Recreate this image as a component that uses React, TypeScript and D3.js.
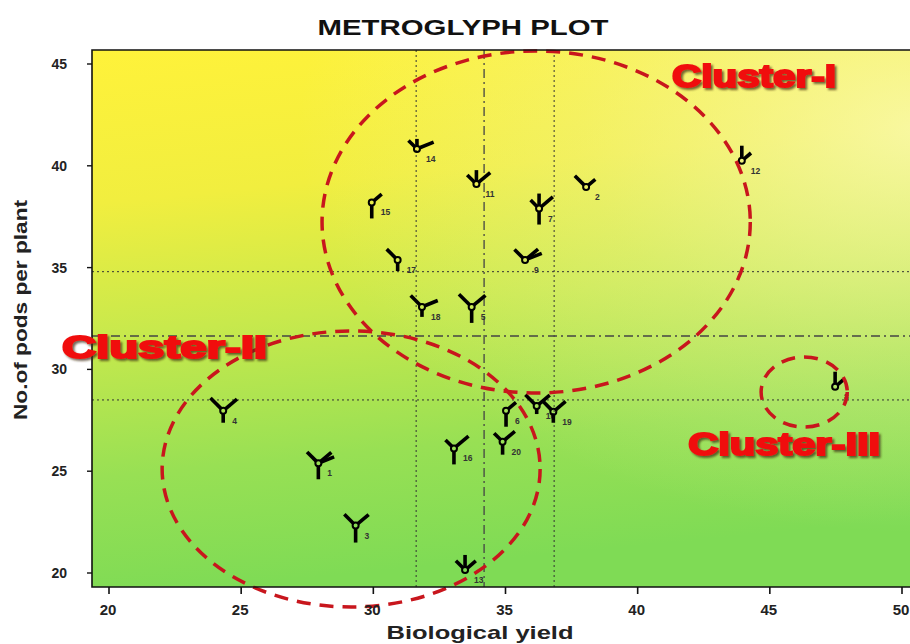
import React from "react";
import * as d3 from "d3";

// ---------- data ----------
const xTicks = [20, 25, 30, 35, 40, 45, 50];
const yTicks = [20, 25, 30, 35, 40, 45];

const ids = [1, 2, 3, 4, 5, 6, 7, 8, 9, 10, 11, 12, 13, 14, 15, 16, 17, 18, 19, 20];
const bioYield = [27.92, 38.05, 29.33, 24.32, 33.72, 35.02, 36.27, 47.47, 35.74, 36.18, 33.9, 43.94, 33.47, 31.65, 29.94, 33.05, 30.92, 31.84, 36.81, 34.89];
const podsPerPlant = [25.39, 38.96, 22.33, 27.97, 33.07, 27.97, 37.9, 29.15, 35.37, 28.2, 39.1, 40.25, 20.15, 40.83, 38.2, 26.12, 35.37, 33.07, 27.92, 26.45];

// glyph ray directions (degrees) and ray lengths per genotype
const rayAngles = [270, 135, 90, 40, 22];
const rayLengths = [
  [13, 13, 0, 14, 14],
  [0, 13, 0, 9, 0],
  [14, 13, 0, 14, 0],
  [9, 15, 0, 15, 0],
  [13, 15, 0, 15, 0],
  [13, 0, 0, 10, 0],
  [13, 9, 12, 15, 0],
  [0, 0, 12, 9, 0],
  [0, 12, 0, 14, 15],
  [5, 13, 0, 14, 0],
  [0, 10, 11, 15, 0],
  [0, 0, 12, 9, 0],
  [0, 10, 12, 11, 0],
  [0, 9, 7, 0, 15],
  [13, 0, 0, 10, 0],
  [13, 9, 0, 16, 0],
  [8, 12.5, 0, 0, 0],
  [7, 13, 0, 0, 14],
  [8, 11, 0, 13, 0],
  [10, 9, 0, 13, 0],
];

// reference lines
const vDotted = [31.62, 36.84];
const vDashDot = [34.19];
const hDotted = [34.8, 28.5];
const hDashDot = [31.64];

// clusters (center x, center y, radius x, radius y in data units)
const clusterNames = ["Cluster-I", "Cluster-II", "Cluster-III"];
const clusterCx = [36.16, 29.16, 46.3];
const clusterCy = [37.24, 25.11, 28.89];
const clusterRx = [8.1, 7.15, 1.63];
const clusterRy = [8.4, 6.78, 1.72];
const clusterLabelX = [41.3, 18.22, 41.91];
const clusterLabelY = [43.87, 30.56, 25.8];

export default function App() {
  const W = 910, H = 644;
  const x = d3.scaleLinear().domain([20, 50]).range([109, 902]);
  const y = d3.scaleLinear().domain([20, 45]).range([573, 64]);
  const left = 92, top = 50, right = 919, bottom = 587;
  const font = "'Liberation Sans', Arial, sans-serif";
  const labelWidths = [164, 205, 192];

  return (
    <div style={{ position: "absolute", left: 0, top: 0 }}>
      <svg width={W} height={H} viewBox={`0 0 ${W} ${H}`} style={{ display: "block", background: "#fff" }}>
        <defs>
          <linearGradient id="bg" x1="0" y1="0" x2="0.15" y2="1">
            <stop offset="0" stopColor="#fff23a" />
            <stop offset="0.28" stopColor="#f1ee3f" />
            <stop offset="0.52" stopColor="#c8e94c" />
            <stop offset="0.78" stopColor="#98e054" />
            <stop offset="1" stopColor="#7fdb55" />
          </linearGradient>
          <radialGradient id="sheen" cx="1" cy="0.15" r="0.75" gradientUnits="objectBoundingBox">
            <stop offset="0" stopColor="#fbfbc0" stopOpacity="0.75" />
            <stop offset="0.55" stopColor="#f4f6b0" stopOpacity="0.3" />
            <stop offset="1" stopColor="#f4f6b0" stopOpacity="0" />
          </radialGradient>
          <filter id="shadow" x="-10%" y="-30%" width="130%" height="170%">
            <feDropShadow dx="2" dy="2" stdDeviation="1.2" floodColor="#3a2a10" floodOpacity="0.7" />
          </filter>
          <clipPath id="plotclip">
            <rect x={left} y={top} width={right - left} height={bottom - top} />
          </clipPath>
        </defs>

        {/* title */}
        <text x={463} y={35} textAnchor="middle" fontFamily={font} fontWeight="bold" fontSize={22} textLength={291} lengthAdjust="spacingAndGlyphs" fill="#111">
          METROGLYPH PLOT
        </text>

        {/* background */}
        <rect x={left} y={top} width={right - left} height={bottom - top} fill="url(#bg)" />
        <rect x={left} y={top} width={right - left} height={bottom - top} fill="url(#sheen)" />

        <g clipPath="url(#plotclip)">
          {vDotted.map((v, i) => (
            <line key={"vd" + i} x1={x(v)} x2={x(v)} y1={top} y2={bottom} stroke="#333" strokeWidth={1} strokeDasharray="2,3" />
          ))}
          {hDotted.map((v, i) => (
            <line key={"hd" + i} x1={left} x2={right} y1={y(v)} y2={y(v)} stroke="#333" strokeWidth={1} strokeDasharray="2,3" />
          ))}
          {vDashDot.map((v, i) => (
            <line key={"vdd" + i} x1={x(v)} x2={x(v)} y1={top} y2={bottom} stroke="#444" strokeWidth={1.3} strokeDasharray="9,4,2,4" />
          ))}
          {hDashDot.map((v, i) => (
            <line key={"hdd" + i} x1={left} x2={right} y1={y(v)} y2={y(v)} stroke="#444" strokeWidth={1.3} strokeDasharray="9,4,2,4" />
          ))}

          {/* glyphs */}
          {ids.map((id, i) => {
            const cx = x(bioYield[i]);
            const cy = y(podsPerPlant[i]);
            const r = 3;
            return (
              <g key={"g" + id}>
                {rayAngles.map((a, j) => {
                  const len = rayLengths[i][j];
                  if (!len) return null;
                  const rad = (a * Math.PI) / 180;
                  return (
                    <line
                      key={j}
                      x1={cx + Math.cos(rad) * r}
                      y1={cy - Math.sin(rad) * r}
                      x2={cx + Math.cos(rad) * (r + len)}
                      y2={cy - Math.sin(rad) * (r + len)}
                      stroke="#000"
                      strokeWidth={3.6}
                    />
                  );
                })}
                <circle cx={cx} cy={cy} r={r} fill="none" stroke="#000" strokeWidth={2} />
                <text x={cx + 9} y={cy + 13} fontFamily={font} fontWeight="bold" fontSize={8.5} fill="#333">
                  {id}
                </text>
              </g>
            );
          })}
        </g>

        {/* cluster ellipses (may extend outside the plot) */}
        {clusterNames.map((n, i) => (
          <ellipse
            key={"e" + i}
            cx={x(clusterCx[i])}
            cy={y(clusterCy[i])}
            rx={x(clusterCx[i] + clusterRx[i]) - x(clusterCx[i])}
            ry={y(clusterCy[i] - clusterRy[i]) - y(clusterCy[i])}
            fill="none"
            stroke="#c8161d"
            strokeWidth={3.5}
            strokeDasharray="14,9"
          />
        ))}

        {/* frame */}
        <path d={`M${right},${top}H${left}V${bottom}H${right}`} fill="none" stroke="#111" strokeWidth={1.6} />

        {/* y axis ticks */}
        {yTicks.map((t) => (
          <g key={"yt" + t}>
            <line x1={87} x2={left} y1={y(t)} y2={y(t)} stroke="#111" strokeWidth={1.4} />
            <text x={67} y={y(t) + 5} textAnchor="end" fontFamily={font} fontWeight="bold" fontSize={14} fill="#222">
              {t}
            </text>
          </g>
        ))}
        {/* x axis ticks */}
        {xTicks.map((t) => (
          <g key={"xt" + t}>
            <line x1={x(t)} x2={x(t)} y1={bottom} y2={bottom + 7} stroke="#111" strokeWidth={1.6} />
            <text x={x(t) - 1} y={615} textAnchor="middle" fontFamily={font} fontWeight="bold" fontSize={15} fill="#222">
              {t}
            </text>
          </g>
        ))}

        {/* axis titles */}
        <text x={480} y={639} textAnchor="middle" fontFamily={font} fontWeight="bold" fontSize={19} textLength={187} lengthAdjust="spacingAndGlyphs" fill="#222">
          Biological yield
        </text>
        <text transform={`translate(27,310) rotate(-90)`} textAnchor="middle" fontFamily={font} fontWeight="bold" fontSize={18} textLength={220} lengthAdjust="spacingAndGlyphs" fill="#222">
          No.of pods per plant
        </text>

        {/* cluster labels */}
        {clusterNames.map((n, i) => (
          <text
            key={"cl" + i}
            x={x(clusterLabelX[i])}
            y={y(clusterLabelY[i])}
            fontFamily={font}
            fontWeight="bold"
            fontSize={31}
            textLength={labelWidths[i]}
            lengthAdjust="spacingAndGlyphs"
            fill="#f01010"
            stroke="#f01010"
            strokeWidth={2}
            filter="url(#shadow)"
          >
            {n}
          </text>
        ))}
      </svg>
    </div>
  );
}
